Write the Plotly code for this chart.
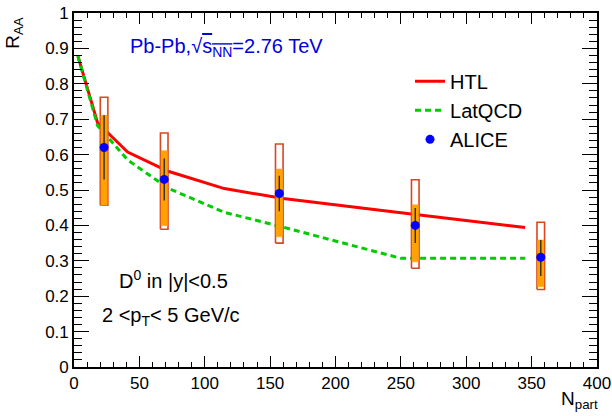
import plotly.graph_objects as go

# ---------------- data ----------------
# ALICE D0 RAA vs Npart
npart = [23, 69, 157, 261, 357]
raa = [0.62, 0.53, 0.49, 0.40, 0.31]
stat_lo = [0.53, 0.47, 0.44, 0.35, 0.257]
stat_hi = [0.711, 0.589, 0.54, 0.449, 0.359]
sys_lo = [0.457, 0.399, 0.368, 0.297, 0.227]
sys_hi = [0.711, 0.611, 0.559, 0.458, 0.359]
fd_lo = [0.457, 0.389, 0.350, 0.279, 0.219]
fd_hi = [0.762, 0.661, 0.630, 0.529, 0.409]

# model curves
model_npart = [3, 18, 41, 72, 115, 160, 250, 345]
htl = [0.878, 0.690, 0.607, 0.553, 0.504, 0.476, 0.436, 0.394]
latqcd = [0.878, 0.682, 0.585, 0.505, 0.437, 0.395, 0.307, 0.307]

x_ticks = [0, 50, 100, 150, 200, 250, 300, 350, 400]
y_ticks = [0, 0.1, 0.2, 0.3, 0.4, 0.5, 0.6, 0.7, 0.8, 0.9, 1]

FONT = "Liberation Sans, Arial, Helvetica, sans-serif"
RED_BOX_HW = 2.9
ORANGE_HW = 2.4


def boxes(xs, lo, hi, hw):
    px, py = [], []
    for x, a, b in zip(xs, lo, hi):
        px += [x - hw, x + hw, x + hw, x - hw, x - hw, None]
        py += [a, a, b, b, a, None]
    return px, py


fig = go.Figure()

fig.add_trace(go.Scatter(x=model_npart, y=htl, mode="lines", name="HTL",
                         line=dict(color="#ff0000", width=3)))
fig.add_trace(go.Scatter(x=model_npart, y=latqcd, mode="lines", name="LatQCD",
                         line=dict(color="#00cc00", width=3, dash="6px,4px")))

bx, by = boxes(npart, fd_lo, fd_hi, RED_BOX_HW)
fig.add_trace(go.Scatter(x=bx, y=by, mode="lines", showlegend=False,
                         line=dict(color="#d9461e", width=1.6), hoverinfo="skip"))
ox, oy = boxes(npart, sys_lo, sys_hi, ORANGE_HW)
fig.add_trace(go.Scatter(x=ox, y=oy, mode="lines", fill="toself", showlegend=False,
                         fillcolor="#ffa200", line=dict(color="#ffa200", width=0.5),
                         hoverinfo="skip"))

fig.add_trace(go.Scatter(
    x=npart, y=raa, mode="markers", name="ALICE",
    marker=dict(color="#0000ff", size=9, symbol="circle"),
    error_y=dict(type="data", symmetric=False,
                 array=[h - v for h, v in zip(stat_hi, raa)],
                 arrayminus=[v - l for l, v in zip(stat_lo, raa)],
                 width=0, thickness=1.3, color="#222222")))

axis_common = dict(
    showline=True, linecolor="black", linewidth=1.6, mirror="allticks",
    ticks="inside", tickcolor="black", tickwidth=1,
    showgrid=False, zeroline=False, automargin=False,
    tickfont=dict(family=FONT, size=17, color="black"),
)

fig.update_layout(
    width=612, height=416,
    margin=dict(l=74, r=15, t=13, b=49, autoexpand=False),
    paper_bgcolor="white", plot_bgcolor="white",
    font=dict(family=FONT, color="black"),
    xaxis=dict(range=[0, 400], tickvals=x_ticks, ticklen=11,
               minor=dict(dtick=10, ticklen=5.5, ticks="inside", tickcolor="black", tickwidth=1),
               **axis_common),
    yaxis=dict(range=[0, 1], tickvals=y_ticks, ticklen=15,
               minor=dict(dtick=0.02, ticklen=8, ticks="inside", tickcolor="black", tickwidth=1),
               **axis_common),
    legend=dict(x=0.6425, y=0.862, xanchor="left", yanchor="top",
                bgcolor="rgba(0,0,0,0)", font=dict(family=FONT, size=20, color="black"),
                tracegroupgap=0),
    showlegend=True,
)

fig.add_annotation(xref="paper", yref="paper", x=0.104, y=0.902, xanchor="left", yanchor="middle",
                   text="Pb-Pb,√<span style='text-decoration:overline'>s<sub>NN</sub></span>=2.76 TeV",
                   showarrow=False, font=dict(family=FONT, size=20, color="#0000dd"))
fig.add_annotation(xref="paper", yref="paper", x=0.0822, y=0.247, xanchor="left", yanchor="middle",
                   text="D<sup>0</sup> in |y|<0.5", showarrow=False,
                   font=dict(family=FONT, size=20, color="black"))
fig.add_annotation(xref="paper", yref="paper", x=0.0497, y=0.142, xanchor="left", yanchor="middle",
                   text="2 <p<sub>T</sub>< 5 GeV/c", showarrow=False,
                   font=dict(family=FONT, size=20, color="black"))
fig.add_annotation(xref="paper", yref="paper", x=-0.1147, y=0.995, xanchor="center", yanchor="top",
                   text="R<sub>AA</sub>", textangle=-90, showarrow=False,
                   font=dict(family=FONT, size=19, color="black"))
fig.add_annotation(xref="paper", yref="paper", x=1.0057, y=-0.1325, xanchor="right", yanchor="bottom",
                   text="N<sub>part</sub>", showarrow=False,
                   font=dict(family=FONT, size=19, color="black"))

fig.write_html("out.html")
